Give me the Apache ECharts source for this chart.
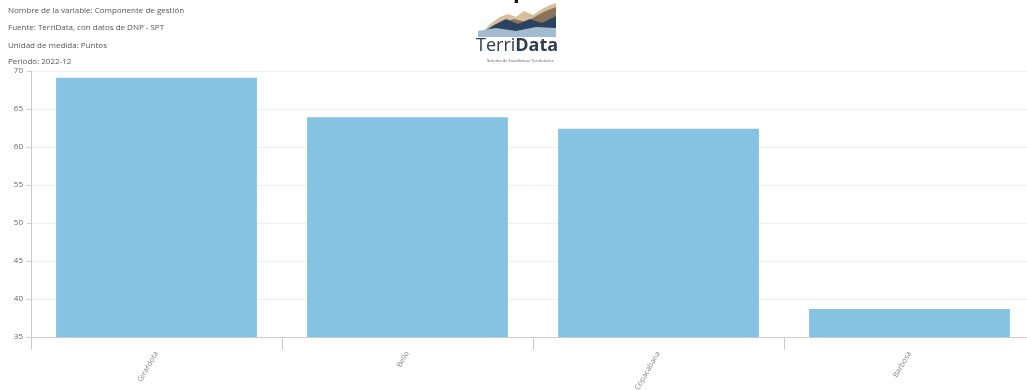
<!DOCTYPE html>
<html>
<head>
<meta charset="utf-8">
<script src="https://cdn.jsdelivr.net/npm/echarts@6/dist/echarts.min.js"></script>
<style>html,body{margin:0;padding:0;background:#fff}#c{width:1027px;height:390px}</style>
</head>
<body>
<div id="c"></div>
<script>
const categories = ['Girardota', 'Bello', 'Copacabana', 'Barbosa'];
const values = [69.1, 63.9, 62.4, 38.7];
const infoLines = [
  'Nombre de la variable: Componente de gestión',
  'Fuente: TerriData, con datos de DNP - SPT',
  'Unidad de medida: Puntos',
  'Periodo: 2022-12'
];

const chart = echarts.init(document.getElementById('c'));
const font = 'Open Sans, DejaVu Sans, sans-serif';
const infoGraphics = infoLines.map((t, i) => ({
  type: 'text', left: 8, top: [7, 24, 42, 58][i],
  style: { text: t, fontSize: 8, fill: '#555', fontFamily: font }
}));

chart.setOption({
  animation: false,
  backgroundColor: '#fff',
  grid: { left: 31, width: 1004, top: 71, bottom: 53, containLabel: false, outerBoundsMode: 'none' },
  xAxis: {
    type: 'category', data: categories,
    axisLine: { lineStyle: { color: '#ccc' } },
    axisTick: { show: true, length: 13, lineStyle: { color: '#ccc' } },
    axisLabel: { rotate: 60, fontSize: 7.5, color: '#888', margin: 15, fontFamily: font }
  },
  yAxis: {
    type: 'value', min: 35, max: 70, interval: 5,
    axisLine: { show: true, lineStyle: { color: '#ccc' } },
    axisTick: { show: true, length: 4, lineStyle: { color: '#ccc' } },
    axisLabel: { fontSize: 8, color: '#666', margin: 8, fontFamily: font },
    splitLine: { lineStyle: { color: '#eee' } }
  },
  series: [{
    type: 'bar', data: values, barCategoryGap: '20%',
    itemStyle: { color: '#86C2E2' }
  }],
  graphic: infoGraphics.concat([
    { type: 'text', left: 513, top: -19, style: { text: 'p', fontSize: 22, fontWeight: 'bold', fill: '#111', fontFamily: font } },
    { type: 'polygon', shape: { points: [[482,33],[490,24],[500,17],[508,14],[516,17],[524,11],[533,15],[542,9],[550,5],[556,3],[556,33]] }, style: { fill: '#d6bf9a' } },
    { type: 'polygon', shape: { points: [[488,33],[500,23],[514,19],[526,22],[538,15],[548,10],[556,7],[556,33]] }, style: { fill: '#8a7458' } },
    { type: 'polygon', shape: { points: [[482,33],[494,25],[506,19],[518,24],[530,19],[542,23],[556,16],[556,34],[482,34]] }, style: { fill: '#2b4260' } },
    { type: 'polygon', shape: { points: [[478,31],[496,28],[516,31],[536,27],[556,28],[556,37],[478,37]] }, style: { fill: '#a2bbcf' } },
    { type: 'text', left: 476, top: 37, style: { text: '{a|Terri}{b|Data}', fontFamily: font, rich: {
      a: { fontSize: 18, fill: '#2f3d4d', fontWeight: 'normal', fontFamily: font },
      b: { fontSize: 18, fill: '#2f3d4d', fontWeight: 'bold', fontFamily: font }
    } } },
    { type: 'text', left: 487, top: 59, style: { text: 'Sistema de Estadísticas Territoriales', fontSize: 4, fill: '#555', fontFamily: font } }
  ])
});
</script>
</body>
</html>
